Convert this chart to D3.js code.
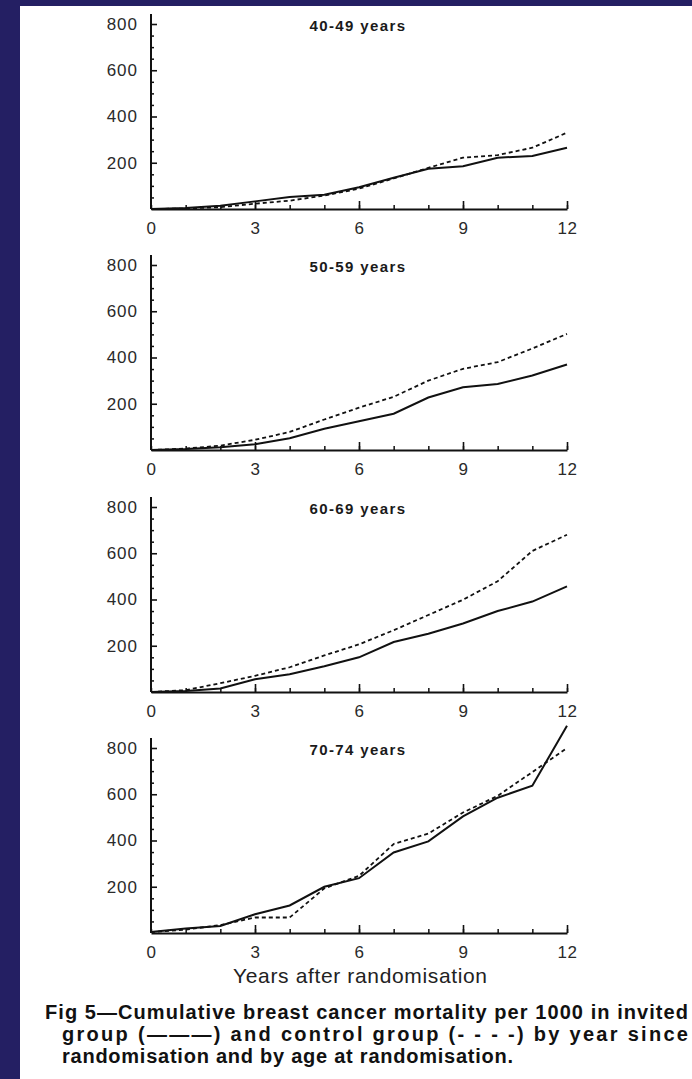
<!DOCTYPE html>
<html>
<head>
  <script src="https://d3js.org/d3.v7.min.js"></script>
  <style>
    body { margin: 0; background: #241f63; }
    svg { display: block; }
    .tick text { font-family: "Liberation Sans", Arial, sans-serif; fill: #2a2a2a; }
    .panel-title { font: bold 15px "Liberation Sans", Arial, sans-serif; letter-spacing: 1.4px; fill: #1a1a1a; }
    .caption { font: bold 20px "Liberation Sans", Arial, sans-serif; fill: #111; }
  </style>
</head>
<body>
  <svg id="chart" width="692" height="1079"></svg>
  <script>
    // years since randomisation
    var years = [0, 1, 2, 3, 4, 5, 6, 7, 8, 9, 10, 11, 12];
    var ageGroups = ['40-49 years', '50-59 years', '60-69 years', '70-74 years'];

    // cumulative breast cancer mortality per 1000
    var invited4049 = [0, 4, 14, 33, 52, 62, 94, 135, 174, 185, 222, 229, 265];
    var control4049 = [0, 2, 8, 23, 36, 58, 88, 132, 178, 222, 233, 265, 330];
    var invited5059 = [0, 4, 12, 25, 51, 92, 124, 157, 227, 271, 285, 322, 370];
    var control5059 = [0, 6, 19, 44, 78, 132, 183, 230, 300, 351, 380, 439, 502];
    var invited6069 = [0, 4, 15, 55, 77, 111, 150, 216, 252, 296, 350, 391, 457];
    var control6069 = [0, 8, 38, 70, 107, 158, 206, 267, 333, 399, 479, 610, 680];
    var invited7074 = [4, 19, 30, 81, 119, 200, 237, 348, 396, 504, 585, 637, 896];
    var control7074 = [4, 15, 34, 67, 67, 193, 247, 385, 430, 521, 593, 696, 800];

    var yTicks = [200, 400, 600, 800];
    var yMinorTicks = [50, 100, 150, 250, 300, 350, 450, 500, 550, 650, 700, 750];
    var xLabelTicks = [0, 3, 6, 9, 12];

    var invited = [invited4049, invited5059, invited6069, invited7074];
    var control = [control4049, control5059, control6069, control7074];

    var svg = d3.select('#chart');

    // white page
    svg.append('rect')
      .attr('x', 20).attr('y', 6)
      .attr('width', 672).attr('height', 1073)
      .attr('fill', '#fff');

    var x = d3.scaleLinear().domain([0, 12]).range([151, 567]);
    var baselines = [209, 450, 692, 933];

    ageGroups.forEach(function (label, i) {
      var base = baselines[i];
      var y = d3.scaleLinear().domain([0, 800]).range([base, base - 185]);
      var g = svg.append('g');

      // minor y ticks
      g.append('g')
        .attr('transform', 'translate(' + x(0) + ',0)')
        .call(d3.axisLeft(y).tickValues(yMinorTicks).tickSize(-3).tickFormat(''))
        .call(function (a) { a.select('.domain').remove(); })
        .selectAll('line').attr('stroke', '#111').attr('stroke-width', 1.5);

      // y axis with labels
      var ya = g.append('g')
        .attr('transform', 'translate(' + x(0) + ',0)')
        .call(d3.axisLeft(y).tickValues(yTicks).tickSize(-6).tickSizeOuter(0).tickPadding(13));
      ya.select('.domain').remove();
      ya.selectAll('line').attr('stroke', '#111').attr('stroke-width', 1.6);
      ya.selectAll('text').attr('font-size', 17).attr('letter-spacing', '1px');
      // extend the vertical axis slightly past 800
      ya.append('line')
        .attr('x1', 0).attr('x2', 0)
        .attr('y1', y(0)).attr('y2', y(843))
        .attr('stroke', '#111').attr('stroke-width', 2);

      // minor x ticks every year
      g.append('g')
        .attr('transform', 'translate(0,' + base + ')')
        .call(d3.axisBottom(x).tickValues(years).tickSize(-4).tickFormat(''))
        .call(function (a) { a.select('.domain').remove(); })
        .selectAll('line').attr('stroke', '#111').attr('stroke-width', 1.5);

      var xa = g.append('g')
        .attr('transform', 'translate(0,' + base + ')')
        .call(d3.axisBottom(x).tickValues(xLabelTicks).tickSize(-8).tickSizeOuter(0).tickPadding(13));
      xa.select('.domain').attr('stroke', '#111').attr('stroke-width', 2.2);
      xa.selectAll('line').attr('stroke', '#111').attr('stroke-width', 1.6);
      xa.selectAll('.tick').filter(function (d) { return d === 0; }).select('line').remove();
      xa.selectAll('text').attr('font-size', 17).attr('letter-spacing', '0.5px');

      g.append('text')
        .attr('class', 'panel-title')
        .attr('x', 358)
        .attr('y', y(800) + 7)
        .attr('text-anchor', 'middle')
        .text(label);

      var line = d3.line()
        .x(function (d, j) { return x(years[j]); })
        .y(function (d) { return y(d); });

      g.append('path')
        .datum(control[i])
        .attr('d', line)
        .attr('fill', 'none')
        .attr('stroke', '#111')
        .attr('stroke-width', 1.8)
        .attr('stroke-dasharray', '4,3');

      g.append('path')
        .datum(invited[i])
        .attr('d', line)
        .attr('fill', 'none')
        .attr('stroke', '#111')
        .attr('stroke-width', 2);
    });

    svg.append('text')
      .attr('x', 360)
      .attr('y', 983)
      .attr('text-anchor', 'middle')
      .attr('font-family', '"Liberation Sans", Arial, sans-serif')
      .attr('font-size', 21)
      .attr('fill', '#222')
      .attr('textLength', 254)
      .text('Years after randomisation');

    var caption = [
      'Fig 5\u2014Cumulative breast cancer mortality per 1000 in invited',
      'group (\u2014\u2014\u2014) and control group (- - - -) by year since',
      'randomisation and by age at randomisation.'
    ];
    var captionX = [45, 62, 62];
    var captionW = [643, 626, 451];
    caption.forEach(function (t, i) {
      svg.append('text')
        .attr('class', 'caption')
        .attr('x', captionX[i])
        .attr('y', 1019 + i * 22)
        .attr('textLength', captionW[i])
        .attr('lengthAdjust', 'spacing')
        .text(t);
    });
  </script>
</body>
</html>
